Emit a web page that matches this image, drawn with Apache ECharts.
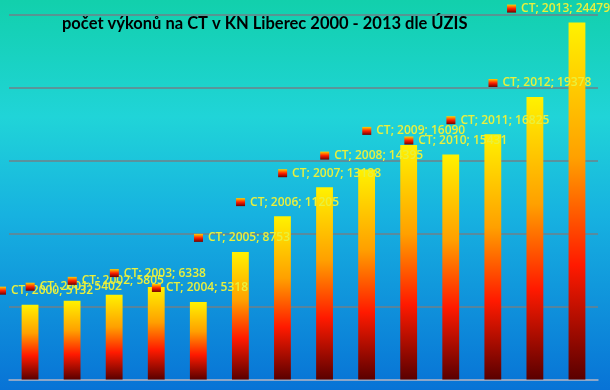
<!DOCTYPE html>
<html>
<head>
<meta charset="utf-8">
<script src="https://cdn.jsdelivr.net/npm/echarts@6/dist/echarts.min.js"></script>
<style>html,body{margin:0;padding:0;}#c{width:610px;height:390px;}</style>
</head>
<body>
<div id="c"></div>
<script>
var titleText = 'počet výkonů na CT v KN Liberec 2000 - 2013 dle ÚZIS';
var seriesName = 'CT';
var years = ['2000','2001','2002','2003','2004','2005','2006','2007','2008','2009','2010','2011','2012','2013'];
var values = [5132, 5402, 5805, 6338, 5318, 8753, 11205, 13188, 14395, 16090, 15431, 16825, 19378, 24479];
var yTicks = [0, 5000, 10000, 15000, 20000, 25000];

var G = echarts.graphic.LinearGradient;
var barGrad = new G(0, 0, 0, 1, [
  {offset: 0, color: '#fff200'},
  {offset: 0.38, color: '#ffa000'},
  {offset: 0.68, color: '#ff1a00'},
  {offset: 1, color: '#5a0000'}
]);
var markGrad = new G(0, 0, 0, 1, [
  {offset: 0, color: '#ffd000'},
  {offset: 0.5, color: '#ff2000'},
  {offset: 1, color: '#700000'}
]);

var el = document.getElementById('c');
var chart = echarts.init(el);
var W = el.clientWidth;
chart.setOption({
  animation: false,
  backgroundColor: new G(0, 0, 0, 1, [
    {offset: 0, color: '#12d0ac'},
    {offset: 0.3, color: '#20d4d8'},
    {offset: 0.55, color: '#17b2e0'},
    {offset: 1, color: '#0873d6'}
  ]),
  title: {
    text: titleText,
    left: 57, top: 10,
    textStyle: {fontFamily: 'Lato', fontWeight: 'bold', fontSize: 16.5, color: '#000'}
  },
  grid: {left: 9, right: 12, top: 15, bottom: 10.5, containLabel: false},
  xAxis: {
    type: 'category', data: years,
    axisLine: {show: true, lineStyle: {color: '#9fb4d6', width: 1.5}},
    axisTick: {show: false}, axisLabel: {show: false}
  },
  yAxis: {
    type: 'value', min: yTicks[0], max: yTicks[yTicks.length - 1], interval: yTicks[1] - yTicks[0],
    axisLine: {show: false}, axisTick: {show: false}, axisLabel: {show: false},
    splitLine: {lineStyle: {color: '#6f8088', width: 1.5}}
  },
  series: [{
    type: 'bar', name: seriesName, data: values, barWidth: '40%',
    itemStyle: {color: barGrad},
    label: {
      show: true,
      position: [-38, -14],
      align: 'left', verticalAlign: 'middle',
      formatter: function (p) { return '{m|}{t|' + p.seriesName + '; ' + p.name + '; ' + p.value + '}'; },
      rich: {
        m: {width: 9, height: 8, backgroundColor: markGrad},
        t: {color: '#eaf03c', fontFamily: 'Open Sans', fontSize: 12, fontWeight: 600, padding: [0, 0, 0, 5]}
      }
    },
    labelLayout: function (p) {
      var r = p.labelRect;
      var cy = r.y + r.height / 2;
      if (r.x < -3) {
        return {x: -3, y: cy, align: 'left', verticalAlign: 'middle'};
      }
      if (r.x + r.width > W) {
        return {x: W - r.width, y: cy, align: 'left', verticalAlign: 'middle'};
      }
      return {};
    }
  }]
});
</script>
</body>
</html>
